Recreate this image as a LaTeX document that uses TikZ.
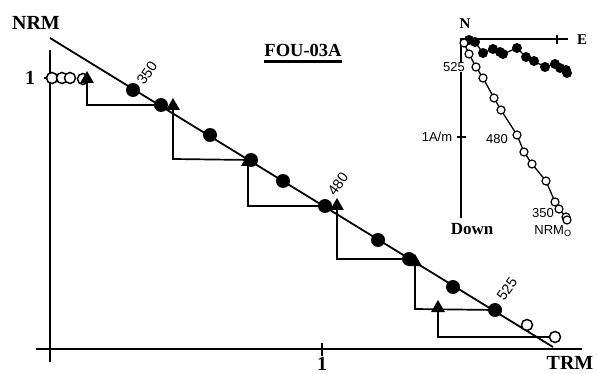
\documentclass[tikz,border=0pt]{standalone}
\usepackage{fontspec}
\setmainfont{Liberation Serif}
\setsansfont{Liberation Sans}
\usetikzlibrary{shapes.geometric}

\newcommand{\labbf}{\fontsize{20}{20}\selectfont\bfseries}
\newcommand{\tempsf}{\fontsize{14.5}{14.5}\selectfont\sffamily}
\newcommand{\zijsf}{\fontsize{13}{13}\selectfont\sffamily}

\begin{document}
\begin{tikzpicture}[
        x=1pt, y=-1pt,
        axis/.style={line width=2.8pt},
        fitline/.style={line width=1.8pt},
        stepline/.style={line width=1.7pt},
        full/.style={circle, fill=black, minimum size=14pt, inner sep=0pt},
        hollow/.style={circle, draw=black, fill=white, line width=1.5pt, minimum size=11pt, inner sep=0pt},
        checkpt/.style={regular polygon, regular polygon sides=3, fill=black, minimum size=16pt, inner sep=0pt},
        temp/.style={font=\tempsf, rotate=55, inner sep=0pt},
        zaxis/.style={line width=1.4pt},
        zline/.style={line width=1.3pt},
        zfull/.style={circle, fill=black, minimum size=10pt, inner sep=0pt},
        zhollow/.style={circle, draw=black, fill=white, line width=1.2pt, minimum size=8pt, inner sep=0pt},
        zlabel/.style={font=\zijsf, inner sep=0.5pt}
    ]
        \useasboundingbox (0,0) rectangle (597,374);

        \coordinate (ytop) at (50,50);
        \coordinate (ybot) at (50,362);
        \coordinate (xleft) at (36,349);
        \coordinate (xright) at (582,349);
        \coordinate (ytick) at (44,78);
        \coordinate (ytickend) at (50,78);
        \coordinate (xtick) at (322,343);
        \coordinate (xtickend) at (322,356);

        \coordinate (fitA) at (50,38);
        \coordinate (fitB) at (553,347);

        \coordinate (f1) at (133,90);
        \coordinate (f2) at (161,105);
        \coordinate (f3) at (210,135);
        \coordinate (f4) at (251,160);
        \coordinate (f5) at (283,181);
        \coordinate (f6) at (325,206);
        \coordinate (f7) at (378,240);
        \coordinate (f8) at (409,259);
        \coordinate (f9) at (453,287);
        \coordinate (f10) at (495,310);
        \coordinate (o1) at (527,325);
        \coordinate (o2) at (555,337);

        \coordinate (t1) at (87,79);
        \coordinate (t2) at (173,106);
        \coordinate (t3) at (248,162);
        \coordinate (t4) at (337,206);
        \coordinate (t5) at (415,262);
        \coordinate (t6) at (438,308);
        \coordinate (c1) at (87,105);
        \coordinate (c2) at (173,159);
        \coordinate (c3) at (248,206);
        \coordinate (c4) at (337,259);
        \coordinate (c5) at (415,309);
        \coordinate (c6) at (438,337);

        \draw[axis] (ytop) -- (ybot);
        \draw[axis] (xleft) -- (xright);
        \draw[line width=1.8pt] (ytick) -- (ytickend);
        \draw[line width=2pt] (xtick) -- (xtickend);

        \draw[fitline] (fitA) -- (fitB);

        \draw[stepline] (t1) -- (c1) -- (f2);
        \draw[stepline] (t2) -- (c2) -- (f4);
        \draw[stepline] (t3) -- (c3) -- (f6);
        \draw[stepline] (t4) -- (c4) -- (f8);
        \draw[stepline] (t5) -- (c5) -- (f10);
        \draw[stepline] (t6) -- (c6) -- (o2);

        \node[hollow] (n0a) at (52,78) {};
        \node[hollow] (n0b) at (62,78) {};
        \node[hollow] (n0c) at (70,78) {};
        \node[hollow] (n0d) at (83,79) {};

        \node[checkpt] (tri3) at (t3) {};
        \node[checkpt] (tri5) at (t5) {};
        \foreach \i in {1,...,10}
            \node[full] (pt\i) at (f\i) {};
        \node[hollow] (pto1) at (o1) {};
        \node[hollow] (pto2) at (o2) {};
        \node[checkpt] (tri1) at (t1) {};
        \node[checkpt] (tri2) at (t2) {};
        \node[checkpt] (tri4) at (t4) {};
        \node[checkpt] (tri6) at (t6) {};

        \node[temp] (lab350) at (147,73) {350};
        \node[temp] (lab480) at (338,184) {480};
        \node[temp] (lab525) at (507,289) {525};

        \node[font=\labbf] (nrm) at (36,23) {NRM};
        \node[font=\labbf] (trm) at (570,363) {TRM};
        \node[font=\labbf] (yone) at (30,78) {1};
        \node[font=\labbf, inner sep=0pt] (xone) at (322,364) {1};
        \node[font=\fontsize{18.5}{18.5}\selectfont\bfseries, inner sep=0pt] (title) at (303,50) {FOU-03A};
        \draw[line width=2.4pt] ([yshift=-5pt]title.south west) -- ([yshift=-5pt]title.south east);

        \coordinate (zo) at (461,39);
        \coordinate (ze) at (568,39);
        \coordinate (zd) at (461,218);
        \coordinate (zetick) at (557,35);
        \coordinate (zetickend) at (557,44);
        \coordinate (zdtick) at (457,137);
        \coordinate (zdtickend) at (466,137);

        \draw[zaxis] (zd) -- (zo) -- (ze);
        \draw[zaxis] (zetick) -- (zetickend);
        \draw[zaxis] (zdtick) -- (zdtickend);

        \node[zlabel, fill=white] (z525) at (454,67) {525};
        \node[zlabel] (z480) at (497,139) {480};
        \node[zlabel] (z350) at (543,213) {350};
        \node[zlabel] (znrm) at (553,231) {NRM\textsubscript{O}};
        \node[zlabel] (zam) at (437,137) {1A/m};
        \node[font=\fontsize{15}{15}\selectfont\bfseries, inner sep=0pt] (zn) at (465,24) {N};
        \node[font=\fontsize{15}{15}\selectfont\bfseries, inner sep=0pt] (zE) at (582,40) {E};
        \node[font=\fontsize{17}{17}\selectfont\bfseries, inner sep=0pt] (zdown) at (472,229) {Down};

        \foreach \x/\y [count=\i] in {469/40,475/42,483/53,493/49,500/52,503/54,517/48,526/57,534/61,545/67,555/64,560/68,566/70,567/73}
            \coordinate (h\i) at (\x,\y);
        \draw[zline] (h1) \foreach \i in {2,...,14} { -- (h\i) };
        \foreach \i in {1,...,14}
            \node[zfull] (hn\i) at (h\i) {};

        \foreach \x/\y [count=\i] in {464/43,469/54,476/67,483/78,494/98,501/110,517/135,524/152,532/164,546/181,555/202,559/209,566/217,567/220}
            \coordinate (v\i) at (\x,\y);
        \draw[zline] (v1) \foreach \i in {2,...,14} { -- (v\i) };
        \foreach \i in {1,...,14}
            \node[zhollow] (vn\i) at (v\i) {};
    \end{tikzpicture}
\end{document}
